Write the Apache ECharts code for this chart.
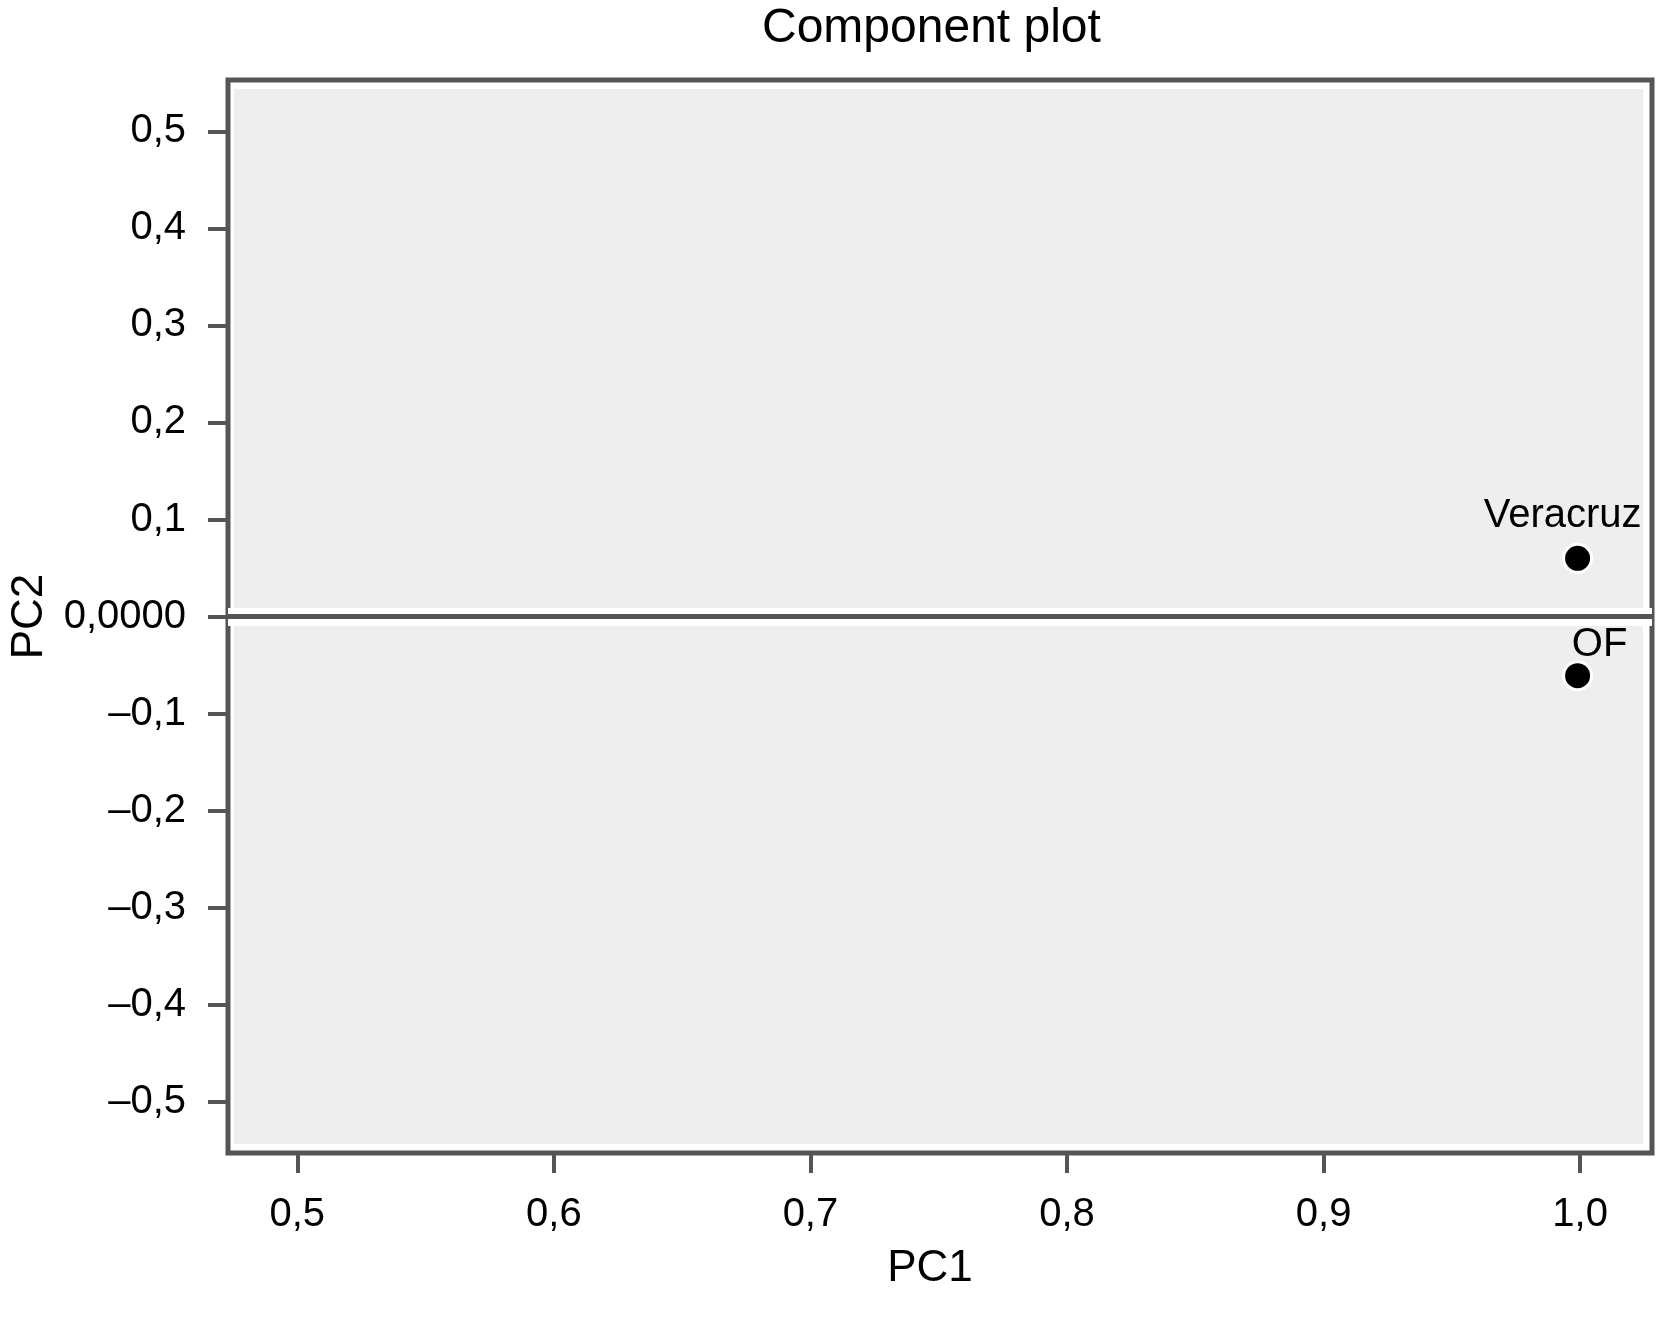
<!DOCTYPE html>
<html>
<head>
<meta charset="utf-8">
<title>Component plot</title>
<script src="https://cdn.jsdelivr.net/npm/echarts@6/dist/echarts.min.js"></script>
<style>
  html, body { margin: 0; padding: 0; background: #fff; }
  #chart { width: 1658px; height: 1318px; }
</style>
</head>
<body>
<div id="chart"></div>
<script>
// loadings
const names = ['Veracruz', 'OF']
const pc1 = [0.999, 0.999]
const pc2 = [0.06, -0.061]

const xTicks = [0.5, 0.6, 0.7, 0.8, 0.9, 1.0]
const yTicks = [0.5, 0.4, 0.3, 0.2, 0.1, 0, -0.1, -0.2, -0.3, -0.4, -0.5]

const frame = '#555555'
const font = 'Liberation Sans, Arial, Helvetica, sans-serif'

function fmt(v) {
  if (Math.abs(v) < 1e-9) return '0,0000'
  return v.toFixed(1).replace('.', ',').replace('-', '\u2013')
}

// label nudges so the names sit like in the source
const labelOffsets = [[-15, 0], [22, 12]]

const points = names.map((n, i) => ({
  name: n,
  value: [pc1[i], pc2[i]],
  label: { offset: labelOffsets[i] }
}))

const chart = echarts.init(document.getElementById('chart'))

const option = {
  backgroundColor: '#fff',
  animation: false,
  title: {
    text: 'Component plot',
    left: 757,
    top: 0,
    textStyle: { fontFamily: font, fontSize: 48, fontWeight: 'normal', color: '#000' }
  },
  grid: [
    { left: 225, right: 6, top: 80, bottom: 165, show: true, backgroundColor: '#fff', borderColor: frame, borderWidth: 5 },
    // inner grey panel, leaves a white rim inside the frame
    { left: 234, right: 15, top: 89, bottom: 174, show: true, backgroundColor: '#eeeeee', borderWidth: 0 }
  ],
  xAxis: [
    {
      type: 'value',
      gridIndex: 0,
      min: 0.473,
      max: 1.028,
      name: 'PC1',
      nameLocation: 'middle',
      nameGap: 94,
      nameTextStyle: { fontFamily: font, fontSize: 44, color: '#000', verticalAlign: 'top', padding: [0, 20, 0, 0] },
      axisLine: { show: false, onZero: false },
      axisTick: { show: true, length: 20, customValues: xTicks, lineStyle: { color: frame, width: 4 } },
      axisLabel: { customValues: xTicks, formatter: fmt, margin: 42, fontFamily: font, fontSize: 40, color: '#000' },
      splitLine: { show: false }
    },
    { type: 'value', gridIndex: 1, show: false, min: 0.473, max: 1.028 }
  ],
  yAxis: [
    {
      type: 'value',
      gridIndex: 0,
      min: -0.553,
      max: 0.553,
      name: 'PC2',
      nameLocation: 'middle',
      nameGap: 176,
      nameRotate: 90,
      nameTextStyle: { fontFamily: font, fontSize: 44, color: '#000' },
      axisLine: { show: false, onZero: false },
      axisTick: { show: true, length: 20, customValues: yTicks, lineStyle: { color: frame, width: 4 } },
      axisLabel: { customValues: yTicks, formatter: fmt, margin: 42, fontFamily: font, fontSize: 40, color: '#000' },
      splitLine: { show: false }
    },
    { type: 'value', gridIndex: 1, show: false, min: -0.553, max: 0.553 }
  ],
  series: [
    {
      type: 'scatter',
      xAxisIndex: 0,
      yAxisIndex: 0,
      data: points,
      symbolSize: 28,
      itemStyle: { color: '#000', opacity: 1, borderColor: '#fff', borderWidth: 3 },
      label: {
        show: true,
        position: 'top',
        distance: 7,
        formatter: '{b}',
        fontFamily: font,
        fontSize: 40,
        color: '#000'
      },
      markLine: {
        silent: true,
        symbol: 'none',
        label: { show: false },
        data: [
          { yAxis: 0, lineStyle: { color: '#fff', width: 18, type: 'solid', opacity: 1 } },
          { yAxis: 0, lineStyle: { color: frame, width: 5, type: 'solid', opacity: 1 } }
        ]
      },
      z: 3
    }
  ]
}

chart.setOption(option)
window.addEventListener('resize', () => chart.resize())
</script>
</body>
</html>
